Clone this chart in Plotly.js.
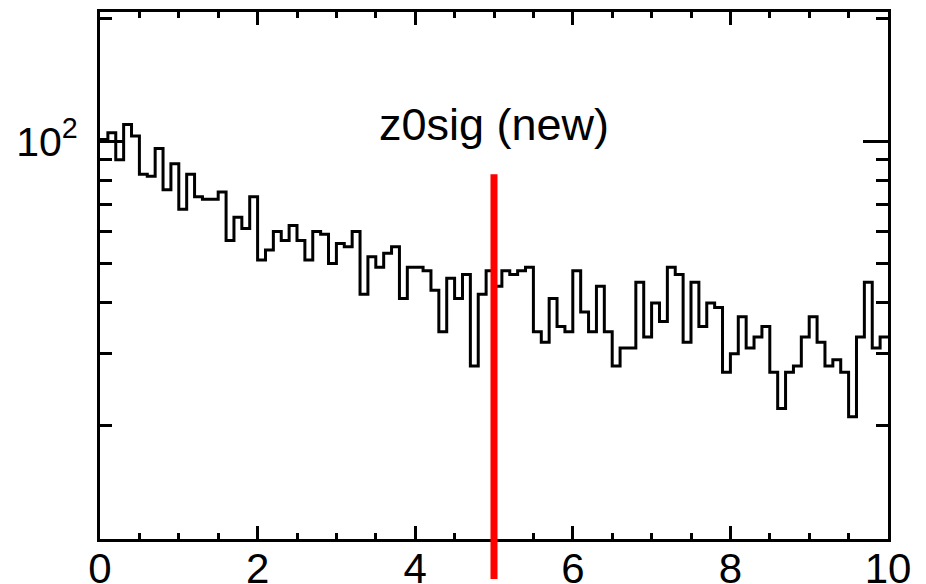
<!DOCTYPE html>
<html>
<head>
<meta charset="utf-8">
<script src="https://cdn.plot.ly/plotly-3.0.1.min.js"></script>
<style>
  html, body { margin: 0; padding: 0; background: #ffffff; }
  #chart { width: 926px; height: 584px; }
</style>
</head>
<body>
<div id="chart"></div>
<script>
// ---- data ----
const xMin = 0;
const xMax = 10;
const binWidth = 0.1;
const counts = [
  101, 105, 90, 110, 103, 83, 82, 96, 76, 88,
  68, 83, 73, 72, 72, 75, 57, 65, 61, 73,
  51, 54, 60, 57, 62, 57, 51, 60, 59, 50,
  56, 55, 60, 42, 52, 49, 53, 55, 41, 49,
  49, 48, 43, 34, 46, 41, 47, 28, 42, 48,
  44, 48, 47, 48, 49, 34, 32, 41, 35, 34,
  48, 38, 34, 44, 34, 28, 31, 31, 45, 33,
  40, 36, 49, 47, 32, 45, 35, 40, 39, 27,
  30, 37, 31, 33, 35, 27, 22, 27, 28, 33,
  37, 32, 28, 29, 27, 21, 33, 45, 31, 33
];
const xTickVals = [0, 2, 4, 6, 8, 10];
const xTickText = ['0', '2', '4', '6', '8', '10'];
const xMinorTickVals = [0.5, 1, 1.5, 2.5, 3, 3.5, 4.5, 5, 5.5, 6.5, 7, 7.5, 8.5, 9, 9.5];
const yTickVals = [100];
const yTickText = ['10<sup>2</sup>'];
const yMinorTickVals = [20, 30, 40, 50, 60, 70, 80, 90, 200];
const yMin = 10.5;
const yMax = 208;
const cutValue = 5;
const titleText = 'z0sig (new)';

// ---- build step outline from bins ----
const xs = [];
const ys = [];
for (let i = 0; i < counts.length; i++) {
  xs.push(+(xMin + i * binWidth).toFixed(4));
  ys.push(counts[i]);
}
xs.push(xMax);
ys.push(counts[counts.length - 1]);

const FONT = '"Liberation Sans", Arial, Helvetica, sans-serif';

const trace = {
  type: 'scatter',
  mode: 'lines',
  x: xs,
  y: ys,
  line: { shape: 'hv', color: '#000000', width: 3 },
  hoverinfo: 'skip',
  showlegend: false
};

const layout = {
  width: 926,
  height: 584,
  margin: { l: 100, r: 38, t: 12, b: 45, pad: 0 },
  paper_bgcolor: '#ffffff',
  plot_bgcolor: '#ffffff',
  showlegend: false,
  font: { family: FONT, color: '#000000' },
  xaxis: {
    range: [xMin, xMax],
    showgrid: false,
    zeroline: false,
    showline: true,
    linecolor: '#000000',
    linewidth: 3,
    mirror: 'allticks',
    ticks: 'inside',
    ticklen: 13,
    tickwidth: 3,
    tickcolor: '#000000',
    tickmode: 'array',
    tickvals: xTickVals,
    ticktext: xTickText,
    ticklabelstandoff: -9,
    tickfont: { family: FONT, size: 42, color: '#000000' },
    minor: {
      tickmode: 'array',
      tickvals: xMinorTickVals,
      ticks: 'inside',
      ticklen: 6,
      tickwidth: 3,
      tickcolor: '#000000',
      showgrid: false
    }
  },
  yaxis: {
    type: 'log',
    range: [Math.log10(yMin), Math.log10(yMax)],
    showgrid: false,
    zeroline: false,
    showline: true,
    linecolor: '#000000',
    linewidth: 3,
    mirror: 'allticks',
    ticks: 'inside',
    ticklen: 25,
    tickwidth: 3,
    tickcolor: '#000000',
    tickmode: 'array',
    tickvals: yTickVals,
    ticktext: yTickText,
    ticklabelstandoff: 11,
    tickfont: { family: FONT, size: 41, color: '#000000' },
    minor: {
      tickmode: 'array',
      tickvals: yMinorTickVals,
      ticks: 'inside',
      ticklen: 12,
      tickwidth: 3,
      tickcolor: '#000000',
      showgrid: false
    }
  },
  shapes: [{
    type: 'line',
    xref: 'x',
    yref: 'paper',
    x0: cutValue,
    x1: cutValue,
    y0: -0.076,
    y1: 0.692,
    line: { color: '#ff0000', width: 7 },
    layer: 'above'
  }],
  annotations: [{
    text: titleText,
    xref: 'paper',
    yref: 'paper',
    x: 0.5,
    y: 0.787,
    xanchor: 'center',
    yanchor: 'middle',
    showarrow: false,
    font: { family: FONT, size: 45, color: '#000000' }
  }]
};

Plotly.newPlot('chart', [trace], layout, { staticPlot: true, displayModeBar: false });
</script>
</body>
</html>
